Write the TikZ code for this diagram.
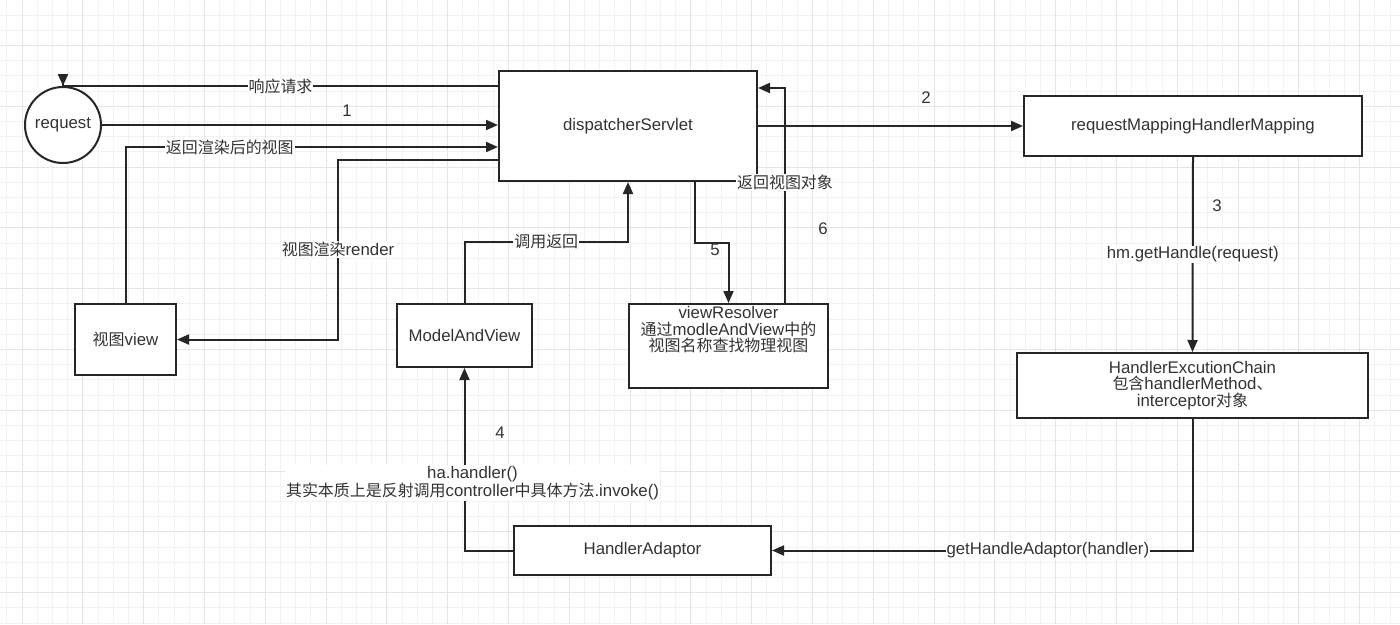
\documentclass[tikz,border=0pt]{standalone}
\usepackage{fontspec}
\setmainfont{Liberation Sans}
\newfontfamily\cjk[Scale=0.95]{Noto Sans CJK SC}
\usetikzlibrary{arrows.meta}
\usetikzlibrary{positioning}

\begin{document}
\begin{tikzpicture}[x=1pt,y=-1pt,
  font=\fontsize{16.8}{16.5}\selectfont, text=black!80,
  box/.style={draw=black!85, line width=2pt, rectangle, fill=white, align=center},
  arr/.style={draw=black!85, line width=2pt, -{Triangle[length=12pt,width=10pt]}},
  lbl/.style={fill=white, inner sep=1pt, align=center},
  num/.style={inner sep=0pt},
  gridminor/.style={draw=black!5, line width=0.8pt},
  gridmajor/.style={draw=black!10, line width=0.9pt}]
\useasboundingbox (0,0) rectangle (1400,624);
\fill[white] (0,0) rectangle (1400,624);
% grid paper
\begin{scope}
\clip (0,0) rectangle (1400,624);
\foreach \k in {0,...,92} \draw[gridminor] (6.8+15.2*\k,0) -- (6.8+15.2*\k,624);
\foreach \k in {0,...,40} \draw[gridminor] (0,15+15.2*\k) -- (1400,15+15.2*\k);
\foreach \k in {0,...,22} \draw[gridmajor] (22+60.8*\k,0) -- (22+60.8*\k,624);
\foreach \k in {0,...,9} \draw[gridmajor] (0,45.4+60.8*\k) -- (1400,45.4+60.8*\k);
\end{scope}

% boxes
\node[box, circle, minimum size=76] (req) at (63,125) {request};
\node[box, minimum width=258, minimum height=110] (disp) at (628,126) {dispatcherServlet};
\node[box, minimum width=338, minimum height=60] (rmhm) at (1193,126) {requestMappingHandlerMapping};
\node[box, minimum width=351, minimum height=65] (hec) at (1192.5,385.5) {HandlerExcutionChain\\{\cjk 包含}handlerMethod{\cjk 、}\\interceptor{\cjk 对象}};
\node[box, minimum width=257, minimum height=49] (ha) at (642.5,550.5) {HandlerAdaptor};
\node[box, minimum width=135, minimum height=63] (mav) at (464.5,335.5) {ModelAndView};
\node[box, minimum width=199, minimum height=84] (vr) at (728.5,346) {};
\node[align=center, below=0pt of vr.north] (vrtext) {viewResolver\\{\cjk 通过}modleAndView{\cjk 中的}\\{\cjk 视图名称查找物理视图}};
\node[box, minimum width=101, minimum height=71] (view) at (125.5,339.5) {{\cjk 视图}view};

% connectors
\draw[arr] (disp.west |- 0,86) -| node[lbl, pos=0.25] (resp) {{\cjk 响应请求}} ([yshift=12]req.north) -- (req.north);
\draw[arr] (req.east) -- (req.east -| disp.west);
\node[num] (n1) at (347,111) {1};
\draw[arr] (view.north) |- node[lbl, pos=0.64] (rback) {{\cjk 返回渲染后的视图}} (disp.west |- 0,147);
\draw[arr] (disp.west |- 0,160) -- (338,160) |- node[lbl, pos=0.25] (rend) {{\cjk 视图渲染}render} (view.east);

\draw[arr] (disp.east) -- (rmhm.west);
\node[num] (n2) at (926,98) {2};
\draw[arr] (rmhm.south) -- node[lbl] (hmget) {hm.getHandle(request)} (hec.north);
\node[num] (n3) at (1217,206) {3};
\draw[arr] (hec.south) |- node[lbl, pos=0.672] (gha) {getHandleAdaptor(handler)} (ha.east);

\draw[arr] (ha.west) -| node[lbl, pos=0.685, xshift=8] (hah) {ha.handler()\\{\cjk 其实本质上是反射调用}controller{\cjk 中具体方法}.invoke()} (mav.south);
\node[num] (n4) at (500,433) {4};
\draw[arr] (mav.north) |- node[lbl, pos=0.75] (call) {{\cjk 调用返回}} (disp.south |- 0,242) -- (disp.south);

\draw[arr] ([xshift=67]disp.south) -- ++(0,61) -| (vr.north);
\node[num] (n5) at (715,250) {5};
\draw[arr] ([xshift=56.5]vr.north) |- node[lbl, pos=0.28] (vback) {{\cjk 返回视图对象}} ([yshift=38]disp.east);
\node[num] (n6) at (823,229) {6};

\end{tikzpicture}
\end{document}
